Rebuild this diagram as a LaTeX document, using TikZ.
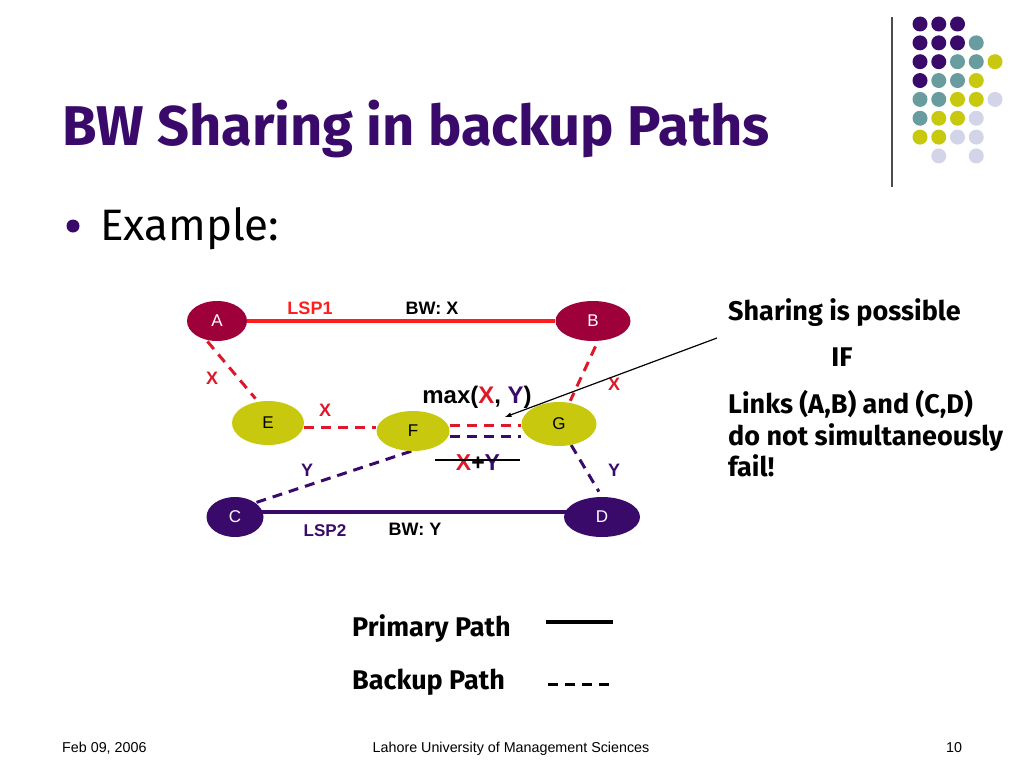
\documentclass[tikz,border=0pt]{standalone}
\usepackage{fontspec}
\setmainfont{Liberation Sans}
\newfontfamily\comic{Fira Sans}
\usetikzlibrary{shapes,arrows,backgrounds}
\definecolor{dpurple}{RGB}{58,10,107}
\definecolor{crimson}{RGB}{158,0,58}
\definecolor{nodeolive}{RGB}{200,200,14}
\definecolor{dotteal}{RGB}{104,156,158}
\definecolor{dotlav}{RGB}{212,212,232}
\definecolor{lred}{RGB}{255,30,30}
\definecolor{dred}{RGB}{222,24,40}
\tikzstyle{rn} = [ellipse, fill=crimson, text=white, minimum height=40pt, inner sep=0pt, font=\fontsize{17}{17}\selectfont]
\tikzstyle{yn} = [ellipse, fill=nodeolive, text=black, minimum height=44pt, inner sep=0pt, font=\fontsize{17}{17}\selectfont]
\tikzstyle{pn} = [ellipse, fill=dpurple, text=white, minimum height=40pt, inner sep=0pt, font=\fontsize{17}{17}\selectfont]
\tikzstyle{lbl} = [inner sep=0pt, font=\fontsize{18}{18}\selectfont\bfseries]
\tikzstyle{prim} = [line width=4pt]
\tikzstyle{bk} = [dash pattern=on 10pt off 7pt, line width=3pt]
\tikzstyle{ctxt} = [inner sep=0pt, anchor=base west, font=\comic\fontsize{27}{27}\selectfont\bfseries]
\tikzstyle{foot} = [inner sep=0pt, anchor=base, font=\fontsize{14.3}{14.3}\selectfont]

\begin{document}
\begin{tikzpicture}[x=1pt, y=-1pt]
	\useasboundingbox (0,0) rectangle (1024,768);
	% title and bullet
	\node[inner sep=0pt, anchor=base west, text=dpurple, font=\comic\fontsize{56}{56}\selectfont\bfseries] (title) at (62,145) {BW Sharing in backup Paths};
	\fill[dpurple] (73,226) circle (6.5pt);
	\node[inner sep=0pt, anchor=base west, font=\comic\fontsize{44}{44}\selectfont] (ex) at (100,240) {Example:};
	
	% dots in the corner
	\coordinate (vl1) at (892,17);
	\coordinate (vl2) at (892,187);
	\draw[line width=1.3pt, black!70] (vl1) -- (vl2);
	\foreach \c/\r in {0/0,1/0,2/0,0/1,1/1,2/1,0/2,1/2,0/3}
		\fill[dpurple] ({920+18.75*\c},{24+18.85*\r}) circle (7.5pt);
	\foreach \c/\r in {3/1,2/2,3/2,1/3,2/3,0/4,1/4,0/5}
		\fill[dotteal] ({920+18.75*\c},{24+18.85*\r}) circle (7.5pt);
	\foreach \c/\r in {4/2,3/3,2/4,3/4,1/5,2/5,0/6,1/6}
		\fill[nodeolive] ({920+18.75*\c},{24+18.85*\r}) circle (7.5pt);
	\foreach \c/\r in {4/4,3/5,2/6,3/6,1/7,3/7}
		\fill[dotlav] ({920+18.75*\c},{24+18.85*\r}) circle (7.5pt);
	
	% network
	\node[rn, minimum width=60pt](A) at (217,321){A};
	\node[rn, minimum width=75pt](B) at (593,321){B};
	\node[yn, minimum width=72pt](E) at (268,423){E};
	\node[yn, minimum width=73pt, minimum height=40pt](F) at (413,431){F};
	\node[yn, minimum width=75pt](G) at (559,424){G};
	\node[pn, minimum width=57pt](C) at (235,517){C};
	\node[pn, minimum width=76pt](D) at (602,517){D};
	
	\begin{scope}[on background layer]
		\draw[prim, lred](A)--(B);
		\draw[prim, dpurple]([yshift=5pt]C.center)--([yshift=5pt]D.center);
		\draw[bk, dred, shorten <=2pt, shorten >=4pt](A.240)--(E.115);
		\draw[bk, dred, shorten <=6pt, shorten >=2pt](B.284)--(G.64);
		\draw[bk, dred]([yshift=-4pt]E.east)--([yshift=4pt]F.west);
		\draw[bk, dred]([yshift=6pt]F.east)--([yshift=-1pt]G.west);
		\draw[bk, dpurple]([yshift=-5pt]F.east)--([yshift=-12pt]G.west);
		\draw[bk, dpurple](F.265)--(C.35);
		\draw[bk, dpurple, shorten >=6pt](G.300)--(D.north);
	\end{scope}
	
	\node[lbl, lred](lsp1) at (310,308){LSP1};
	\node[lbl](bwx) at (432,308){BW: X};
	\node[lbl, dred](xae) at (212,378){X};
	\node[lbl, dred](xbg) at (614,384){X};
	\node[lbl, dred](xef) at (325,410){X};
	\node[lbl, dpurple](yfc) at (307,470){Y};
	\node[lbl, dpurple](ygd) at (614,470){Y};
	\node[lbl, dpurple, font=\fontsize{17}{17}\selectfont\bfseries](lsp2) at (325,531){LSP2};
	\node[lbl](bwy) at (415,529){BW: Y};
	\node[inner sep=0pt, font=\fontsize{24}{24}\selectfont\bfseries](mx) at (477,397){max(\textcolor{dred}{X}, \textcolor{dpurple}{Y})};
	\node[inner sep=0pt, font=\fontsize{23}{23}\selectfont\bfseries](xy) at (478,463){\textcolor{dred}{X}+\textcolor{dpurple}{Y}};
	\coordinate (st1) at (435,460);
	\coordinate (st2) at (520,460);
	\draw[line width=2.5pt](st1)--(st2);
	
	% note and arrow
	\coordinate (ar1) at (717,338);
	\coordinate (ar2) at (505,417);
	\draw[-latex, line width=1.2pt](ar1)--(ar2);
	\node[ctxt](n1) at (728,320){Sharing is possible};
	\node[ctxt, anchor=base](n2) at (842,366){IF};
	\node[ctxt](n3) at (728,413){Links (A,B) and (C,D)};
	\node[ctxt](n4) at (728,445){do not simultaneously};
	\node[ctxt](n5) at (728,476){fail!};
	
	% legend
	\node[ctxt](prl) at (352,636){Primary Path};
	\node[ctxt](bkl) at (352,689){Backup Path};
	\coordinate (pl1) at (546,622);
	\coordinate (pl2) at (613,622);
	\coordinate (bl1) at (548,684);
	\coordinate (bl2) at (615,684);
	\draw[prim](pl1)--(pl2);
	\draw[bk](bl1)--(bl2);
	
	% footer
	\node[foot, anchor=base west](date) at (62,752){Feb 09, 2006};
	\node[foot](univ) at (511,752){Lahore University of Management Sciences};
	\node[foot](pg) at (954,752){10};
\end{tikzpicture}
\end{document}
